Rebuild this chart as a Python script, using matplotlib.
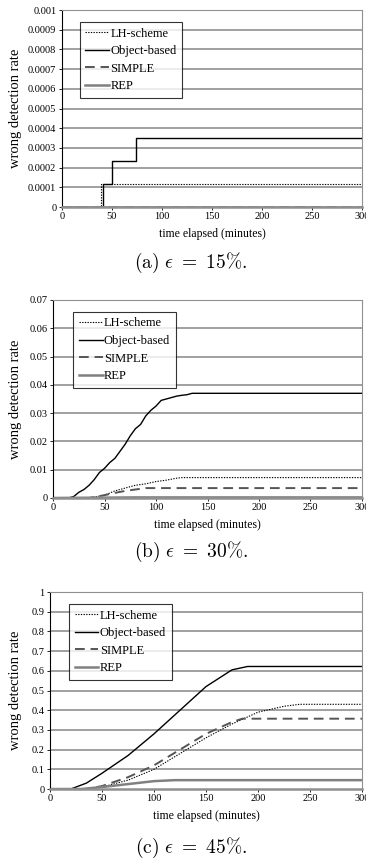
import numpy as np
import matplotlib
matplotlib.use("Agg")
import matplotlib.pyplot as plt

plt.rcParams['font.family'] = ['Liberation Serif', 'DejaVu Serif']
plt.rcParams['mathtext.fontset'] = 'cm'

labels = ["LH-scheme", "Object-based", "SIMPLE", "REP"]

# (a) eps = 15%  (step functions)
a_lh_x = [0, 39, 39, 300]
a_lh_y = [0, 0, 0.000117, 0.000117]
a_obj_x = [0, 41, 41, 50, 50, 74, 74, 300]
a_obj_y = [0, 0, 0.000117, 0.000117, 0.000234, 0.000234, 0.00035, 0.00035]
a_simple_x = [0, 300]
a_simple_y = [0, 0]
a_rep_x = [0, 300]
a_rep_y = [0, 0]

# (b) eps = 30%
b_obj_x = [0, 15, 20, 25, 30, 35, 40, 45, 50, 55, 60, 65, 70, 75, 80, 85, 90, 95,
           100, 105, 110, 115, 120, 125, 130, 135, 300]
b_obj_y = [0, 0, 0.0005, 0.002, 0.003, 0.0045, 0.0065, 0.009, 0.0105, 0.0125, 0.014,
           0.0165, 0.019, 0.022, 0.0245, 0.026, 0.029, 0.031, 0.0325, 0.0345, 0.035,
           0.0355, 0.036, 0.0363, 0.0365, 0.037, 0.037]
b_lh_x = [0, 35, 50, 60, 70, 80, 90, 100, 110, 120, 125, 300]
b_lh_y = [0, 0, 0.001, 0.0025, 0.0035, 0.0045, 0.005, 0.0058, 0.0063, 0.007, 0.0072, 0.0072]
b_simple_x = [0, 35, 50, 60, 70, 80, 90, 300]
b_simple_y = [0, 0, 0.001, 0.0018, 0.0025, 0.003, 0.0035, 0.0035]
b_rep_x = [0, 40, 80, 300]
b_rep_y = [0, 0.0001, 0.0002, 0.0002]

# (c) eps = 45%
c_obj_x = [0, 20, 25, 35, 50, 75, 100, 125, 150, 175, 190, 300]
c_obj_y = [0, 0, 0.01, 0.03, 0.08, 0.17, 0.28, 0.40, 0.52, 0.605, 0.622, 0.622]
c_lh_x = [0, 35, 50, 75, 100, 125, 150, 175, 200, 225, 240, 300]
c_lh_y = [0, 0, 0.01, 0.045, 0.10, 0.18, 0.26, 0.33, 0.39, 0.42, 0.43, 0.43]
c_simple_x = [0, 35, 50, 75, 100, 125, 150, 175, 185, 300]
c_simple_y = [0, 0, 0.015, 0.06, 0.12, 0.20, 0.28, 0.34, 0.357, 0.357]
c_rep_x = [0, 30, 50, 75, 100, 120, 300]
c_rep_y = [0, 0, 0.01, 0.025, 0.04, 0.045, 0.045]

panels = [
    dict(series=[(a_lh_x, a_lh_y), (a_obj_x, a_obj_y), (a_simple_x, a_simple_y), (a_rep_x, a_rep_y)],
         ymax=0.001, ystep=0.0001, pos=[0.169, 0.7587, 0.820, 0.2296],
         leg=(0.06, 0.553), ylab_x=-0.133, cap_y=263, cap=r"$\mathrm{(a)}\ \epsilon\ =\ 15\%\mathrm{.}$"),
    dict(series=[(b_lh_x, b_lh_y), (b_obj_x, b_obj_y), (b_simple_x, b_simple_y), (b_rep_x, b_rep_y)],
         ymax=0.07, ystep=0.01, pos=[0.145, 0.4196, 0.844, 0.2308],
         leg=(0.065, 0.556), ylab_x=-0.10, cap_y=552, cap=r"$\mathrm{(b)}\ \epsilon\ =\ 30\%\mathrm{.}$"),
    dict(series=[(c_lh_x, c_lh_y), (c_obj_x, c_obj_y), (c_simple_x, c_simple_y), (c_rep_x, c_rep_y)],
         ymax=1.0, ystep=0.1, pos=[0.1366, 0.0804, 0.8525, 0.2296],
         leg=(0.061, 0.553), ylab_x=-0.09, cap_y=848, cap=r"$\mathrm{(c)}\ \epsilon\ =\ 45\%\mathrm{.}$"),
]

styles = [
    dict(color="black", lw=0.8, ls=(0, (1.2, 1.2))),
    dict(color="black", lw=1.0, ls="-"),
    dict(color="#555555", lw=1.4, ls=(0, (5, 3))),
    dict(color="#808080", lw=1.8, ls="-"),
]

fig = plt.figure(figsize=(3.66, 8.58), dpi=100)

for p in panels:
    ax = fig.add_axes(p["pos"])
    ticks = np.arange(0, p["ymax"] + p["ystep"] / 2, p["ystep"])
    ax.set_yticks(ticks)
    ax.set_yticklabels(["{:g}".format(round(t, 6)) for t in ticks])
    for t in ticks[1:-1]:
        ax.axhline(t, color="#a0a0a0", lw=1.4, zorder=0)
    for (x, y), st, lab in zip(p["series"], styles, labels):
        ax.plot(x, y, label=lab, **st)
    ax.set_xlim(0, 300)
    ax.set_ylim(0, p["ymax"])
    ax.set_xticks(range(0, 301, 50))
    ax.tick_params(axis="both", labelsize=7.5, length=2, width=0.6, direction="out")
    ax.tick_params(axis="y", pad=2)
    ax.tick_params(axis="x", pad=1.5)
    for s in ["top", "right", "bottom"]:
        ax.spines[s].set_color("#909090")
    ax.spines["bottom"].set_linewidth(1.8)
    ax.spines["left"].set_color("black")
    ax.spines["left"].set_linewidth(0.8)
    ax.set_xlabel("time elapsed (minutes)", fontsize=8.5, labelpad=5)
    ax.set_ylabel("wrong detection rate", fontsize=10.5)
    ax.yaxis.set_label_coords(p["ylab_x"], 0.5)
    leg = ax.legend(loc="lower left", bbox_to_anchor=p["leg"], fontsize=9,
                    frameon=True, fancybox=False, edgecolor="black",
                    handlelength=1.9, handletextpad=0.1, borderpad=0.45,
                    labelspacing=0.45, borderaxespad=0)
    leg.get_frame().set_linewidth(0.8)
    fig.text(191 / 366, 1 - p["cap_y"] / 858, p["cap"], ha="center", va="center",
             fontsize=14)

fig.savefig("out.png", dpi=100)
